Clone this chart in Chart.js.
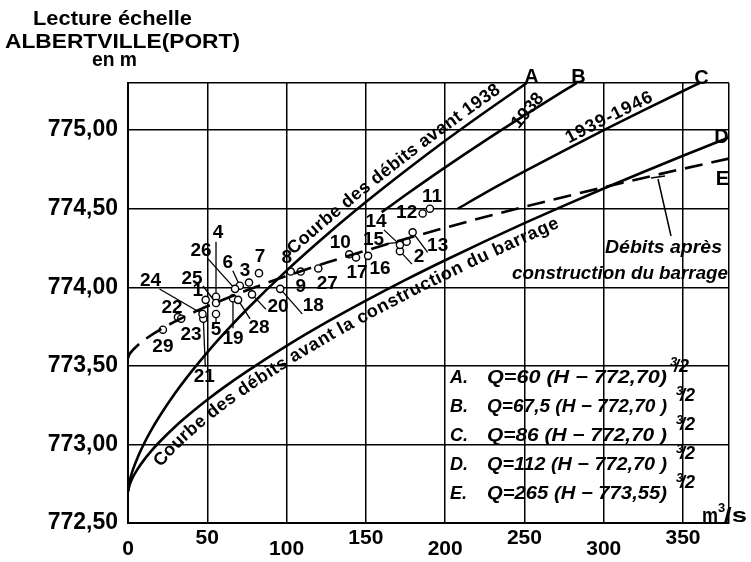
<!DOCTYPE html>
<html>
<head>
<meta charset="utf-8">
<script src="https://cdn.jsdelivr.net/npm/chart.js@4.4.1/dist/chart.umd.min.js"></script>
<style>
  html, body { margin: 0; background: #fff; }
  canvas { display: block; }
</style>
</head>
<body>
<canvas id="courbes" width="751" height="562"></canvas>
<script>
// courbes de tarage : débit Q (m3/s) -> cote H (m)
var qA = [0, 1, 3, 6, 10, 15, 20, 30, 40, 50, 60, 75, 100, 125, 150, 175, 200, 225, 251.5];
var hA = [772.70, 772.765, 772.836, 772.915, 773.003, 773.097, 773.181, 773.330, 773.463, 773.586, 773.700, 773.860, 774.106, 774.331, 774.542, 774.741, 774.932, 775.114, 775.30];
var qB = [160, 175, 200, 225, 250, 275, 283];
var hB = [774.478, 774.587, 774.763, 774.932, 775.094, 775.251, 775.30];
var qC = [208, 225, 250, 275, 300, 325, 350, 360.5];
var hC = [774.50, 774.599, 774.737, 774.870, 775.000, 775.126, 775.249, 775.30];
var qD = [0, 1, 3, 6, 10, 15, 20, 30, 40, 50, 60, 75, 100, 125, 150, 175, 200, 225, 250, 275, 300, 325, 350, 379];
var hD = [772.70, 772.743, 772.790, 772.842, 772.900, 772.962, 773.017, 773.116, 773.203, 773.284, 773.360, 773.465, 773.627, 773.776, 773.915, 774.047, 774.172, 774.292, 774.408, 774.520, 774.629, 774.734, 774.837, 774.954];
var qE = [0, 1, 3, 6, 10, 20, 30, 40, 50, 60, 75, 100, 125, 150, 175, 200, 225, 250, 275, 300, 325, 350, 379];
var hE = [773.55, 773.574, 773.600, 773.630, 773.663, 773.729, 773.784, 773.834, 773.879, 773.921, 773.981, 774.072, 774.156, 774.234, 774.308, 774.379, 774.447, 774.512, 774.575, 774.636, 774.696, 774.754, 774.819];

// jaugeages numérotés
var mesureNo = [1, 2, 3, 4, 5, 6, 7, 8, 9, 10, 11, 12, 13, 14, 15, 16, 17, 18, 19, 20, 21, 22, 23, 24, 25, 26, 27, 28, 29];
var mesureQ = [49, 171.5, 76.3, 55.5, 55.5, 70.5, 82.6, 102.6, 108.9, 139.5, 190.4, 185.8, 179.5, 171.5, 175.7, 151.4, 143.8, 96, 66.2, 78.2, 47.5, 31.5, 33.5, 47, 55.5, 67.5, 120, 69.4, 22];
var mesureH = [773.92, 774.23, 774.03, 773.94, 773.83, 774.01, 774.09, 774.10, 774.10, 774.21, 774.50, 774.47, 774.35, 774.27, 774.29, 774.20, 774.19, 773.99, 773.93, 773.955, 773.80, 773.81, 773.80, 773.83, 773.90, 773.99, 774.12, 773.92, 773.73];

var xTicks = [0, 50, 100, 150, 200, 250, 300, 350];
var xTickLabels = ['0', '50', '100', '150', '200', '250', '300', '350'];
var yTicks = [772.5, 773, 773.5, 774, 774.5, 775];
var yTickLabels = ['772,50', '773,00', '773,50', '774,00', '774,50', '775,00'];

var formuleLettres = ['A.', 'B.', 'C.', 'D.', 'E.'];
var formules = ['Q=60 (H − 772,70)', 'Q=67,5 (H − 772,70 )', 'Q=86 (H − 772,70 )', 'Q=112 (H − 772,70 )', 'Q=265 (H − 773,55)'];

// placement des numéros : [dx, dy] du texte, puis départ du trait de rappel
var etiquettes = [
  [-8, -9, null], [19, 6, [12, 13]], [-4, -12, null], [2, -64, [0, -55]], [0, 16, [0, 8]],
  [-12, -23, [-7, -15]], [1, -16, null], [-4, -14, null], [0, 15, null], [-9, -12, null],
  [2, -12, null], [-16, -1, null], [25, 13, [15, 20]], [-24, -23, [-16, -15]], [-33, -2, [-20, 2]],
  [12, 13, null], [1, 15, null], [33, 17, [22, 25]], [0, 40, [0, 30]], [26, 12, [14, 15]],
  [1, 58, [2, 48]], [-6, -9, null], [10, 16, null], [-52, -33, [-43, -25]], [-24, -24, [-13, -17]],
  [-34, -38, [-27, -30]], [9, 15, null], [21, 28, [12, 19]], [0, 17, null]
];

var FAMILLE = '"Liberation Sans", Arial, sans-serif';

function paires(q, h) {
  return q.map(function (v, i) { return { x: v, y: h[i] }; });
}

function courbe(q, h, dash) {
  return {
    type: 'line',
    data: paires(q, h),
    borderColor: '#000',
    borderWidth: 2.6,
    borderDash: dash || [],
    pointRadius: 0,
    cubicInterpolationMode: 'monotone',
    fill: false
  };
}

// texte étiré à une largeur donnée
function texte(ctx, s, x, y, font, w, align) {
  ctx.font = font;
  var m = ctx.measureText(s).width;
  var k = w ? w / m : 1;
  ctx.save();
  ctx.translate(x, y);
  ctx.scale(k, 1);
  ctx.textAlign = align || 'left';
  ctx.textBaseline = 'alphabetic';
  ctx.fillText(s, 0, 0);
  ctx.restore();
}

function trace(chart, i) {
  return chart.getDatasetMeta(i).data.map(function (p) { return { x: p.x, y: p.y }; });
}

// écrit un texte lettre par lettre le long d'une courbe, entre les débits q0 et q1
function texteCourbe(ctx, pts, s, q0, q1, ecart, xs) {
  var cum = [0], i;
  for (i = 1; i < pts.length; i++) {
    cum.push(cum[i - 1] + Math.hypot(pts[i].x - pts[i - 1].x, pts[i].y - pts[i - 1].y));
  }
  function point(d) {
    d = Math.max(0, Math.min(cum[cum.length - 1], d));
    for (var j = 1; j < pts.length; j++) {
      if (cum[j] >= d) {
        var t = (d - cum[j - 1]) / ((cum[j] - cum[j - 1]) || 1);
        return { x: pts[j - 1].x + t * (pts[j].x - pts[j - 1].x), y: pts[j - 1].y + t * (pts[j].y - pts[j - 1].y) };
      }
    }
    return pts[pts.length - 1];
  }
  function abscisse(px) {
    for (var j = 1; j < pts.length; j++) {
      if (pts[j].x >= px) {
        var t = (px - pts[j - 1].x) / ((pts[j].x - pts[j - 1].x) || 1);
        return cum[j - 1] + t * (cum[j] - cum[j - 1]);
      }
    }
    return cum[cum.length - 1];
  }
  var d0 = abscisse(xs.getPixelForValue(q0));
  var d1 = abscisse(xs.getPixelForValue(q1));
  var k = (d1 - d0) / ctx.measureText(s).width;
  var d = d0;
  for (var c of s) {
    var w = ctx.measureText(c).width * k;
    var m = d + w / 2;
    var a = point(m - 7), b = point(m + 7), p = point(m);
    var ang = Math.atan2(b.y - a.y, b.x - a.x);
    ctx.save();
    ctx.translate(p.x + ecart * Math.sin(ang), p.y - ecart * Math.cos(ang));
    ctx.rotate(ang);
    if (k < 1) ctx.scale(k, 1);
    ctx.textAlign = 'center';
    ctx.textBaseline = 'alphabetic';
    ctx.fillText(c, 0, 0);
    ctx.restore();
    d += w;
  }
}

var rappels = {
  id: 'rappels',
  beforeDatasetsDraw: function (chart) {
    var ctx = chart.ctx, xs = chart.scales.x, ys = chart.scales.y;
    ctx.save();
    ctx.strokeStyle = '#000';
    ctx.lineWidth = 1.3;
    mesureNo.forEach(function (n, i) {
      var l = etiquettes[i][2];
      if (!l) return;
      var px = xs.getPixelForValue(mesureQ[i]), py = ys.getPixelForValue(mesureH[i]);
      ctx.beginPath();
      ctx.moveTo(px + l[0], py + l[1]);
      ctx.lineTo(px, py);
      ctx.stroke();
    });
    // trait vers la courbe E
    ctx.lineWidth = 1.5;
    ctx.beginPath();
    ctx.moveTo(671, 236);
    ctx.lineTo(658, 179);
    ctx.moveTo(651, 178);
    ctx.lineTo(665, 176);
    ctx.stroke();
    ctx.restore();
  }
};

var annotations = {
  id: 'annotations',
  afterDatasetsDraw: function (chart) {
    var ctx = chart.ctx, xs = chart.scales.x, ys = chart.scales.y;
    ctx.save();
    ctx.fillStyle = '#000';

    // numéros des jaugeages
    ctx.font = 'bold 19px ' + FAMILLE;
    ctx.textAlign = 'center';
    ctx.textBaseline = 'middle';
    mesureNo.forEach(function (n, i) {
      var px = xs.getPixelForValue(mesureQ[i]), py = ys.getPixelForValue(mesureH[i]);
      ctx.fillText(String(n), px + etiquettes[i][0], py + etiquettes[i][1]);
    });

    // textes le long des courbes
    ctx.font = 'bold 18px ' + FAMILLE;
    texteCourbe(ctx, trace(chart, 0), 'Courbe des débits avant 1938', 107, 238, 7, xs);
    texteCourbe(ctx, trace(chart, 3), 'Courbe des débits avant la construction du barrage', 12, 268, -18, xs);
    texteCourbe(ctx, trace(chart, 2), '1939-1946', 279, 333, 4, xs);
    ctx.save();
    ctx.translate(515, 126);
    ctx.rotate(-50 * Math.PI / 180);
    ctx.textAlign = 'left';
    ctx.fillText('1938', 0, 0);
    ctx.restore();

    // repères des courbes
    var fl = 'bold 20px ' + FAMILLE;
    texte(ctx, 'A', 531.5, 83, fl, 0, 'center');
    texte(ctx, 'B', 578.5, 83, fl, 0, 'center');
    texte(ctx, 'C', 701.5, 84, fl, 0, 'center');
    texte(ctx, 'D', 721.5, 143, fl, 0, 'center');
    texte(ctx, 'E', 722.5, 185, fl, 0, 'center');

    // Débits après construction
    texte(ctx, 'Débits après', 605, 253, 'italic bold 18px ' + FAMILLE, 117);
    texte(ctx, 'construction du barrage', 512, 279, 'italic bold 18px ' + FAMILLE, 216);

    // formules
    var fi = 'italic bold 18px ' + FAMILLE;
    formules.forEach(function (f, i) {
      var b = 383 + i * 29;
      texte(ctx, formuleLettres[i], 450, b, fi);
      texte(ctx, f, 487, b, fi, 180);
      texte(ctx, '3', i === 0 ? 670 : 676, b - 17, 'italic bold 13px ' + FAMILLE);
      texte(ctx, '/2', i === 0 ? 674 : 680, b - 11, 'italic bold 18px ' + FAMILLE);
    });

    // unité des débits
    texte(ctx, 'm', 702, 522, 'bold 21px ' + FAMILLE, 16);
    texte(ctx, '3', 718, 512, 'bold 13px ' + FAMILLE);
    texte(ctx, '/s', 724, 522, 'bold 21px ' + FAMILLE, 23);

    // titre de l'axe des cotes
    var ft = 'bold 21px ' + FAMILLE;
    texte(ctx, 'Lecture échelle', 112.5, 25, ft, 159, 'center');
    texte(ctx, 'ALBERTVILLE(PORT)', 122.5, 48, ft, 235, 'center');
    texte(ctx, 'en m', 114.5, 66, ft, 45, 'center');
    ctx.restore();
  }
};

var ctx = document.getElementById('courbes');

new Chart(ctx, {
  data: {
    datasets: [
      courbe(qA, hA),
      courbe(qB, hB),
      courbe(qC, hC),
      courbe(qD, hD),
      courbe(qE, hE, [18, 9]),
      {
        type: 'scatter',
        data: paires(mesureQ, mesureH),
        pointRadius: 3.6,
        pointBorderWidth: 1.4,
        pointBackgroundColor: '#fff',
        pointBorderColor: '#000'
      },
      {
        type: 'scatter',
        data: paires(mesureQ, mesureH),
        pointRadius: 0.9,
        pointBorderWidth: 0,
        pointBackgroundColor: '#000'
      }
    ]
  },
  options: {
    responsive: false,
    animation: false,
    devicePixelRatio: 1,
    layout: { padding: { left: 0, right: 22, top: 83, bottom: 0 } },
    plugins: {
      legend: { display: false },
      tooltip: { enabled: false }
    },
    scales: {
      x: {
        type: 'linear',
        min: 0,
        max: 379,
        afterBuildTicks: function (s) {
          s.ticks = xTicks.concat([379]).map(function (v) { return { value: v }; });
        },
        afterFit: function (s) { s.height = 39; },
        grid: { color: '#000', lineWidth: 1.5, drawTicks: false },
        border: { color: '#000', width: 2 },
        ticks: {
          autoSkip: false,
          maxRotation: 0,
          padding: 10,
          color: '#000',
          font: { family: 'Liberation Sans', size: 21, weight: 'bold', lineHeight: 0.5 },
          callback: function (v) {
            var i = xTicks.indexOf(v);
            if (i < 0) return '';
            return i % 2 === 0 ? ['', xTickLabels[i]] : xTickLabels[i];
          }
        }
      },
      y: {
        type: 'linear',
        min: 772.5,
        max: 775.3,
        afterBuildTicks: function (s) {
          s.ticks = yTicks.concat([775.3]).map(function (v) { return { value: v }; });
        },
        afterFit: function (s) { s.width = 128; },
        grid: { color: '#000', lineWidth: 1.5, drawTicks: false },
        border: { color: '#000', width: 2 },
        ticks: {
          autoSkip: false,
          padding: 10,
          color: '#000',
          font: { family: 'Liberation Sans', size: 23, weight: 'bold' },
          callback: function (v) {
            var i = yTicks.indexOf(v);
            return i < 0 ? '' : yTickLabels[i];
          }
        }
      }
    }
  },
  plugins: [rappels, annotations]
});
</script>
</body>
</html>
